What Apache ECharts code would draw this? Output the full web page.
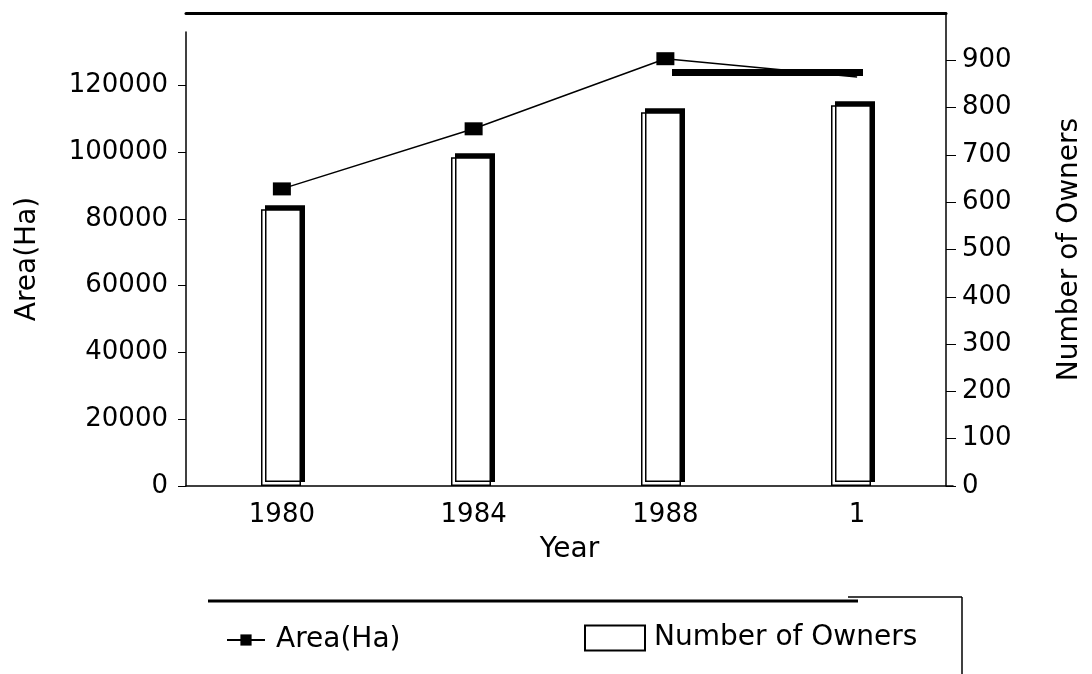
<!DOCTYPE html>
<html>
<head>
<meta charset="utf-8">
<style>
  html, body { margin: 0; padding: 0; background: #fff; }
  #main { width: 1092px; height: 674px; }
</style>
<script src="https://cdn.jsdelivr.net/npm/echarts@6/dist/echarts.min.js"></script>
</head>
<body>
<div id="main"></div>
<script>
// data
var years = ['1980', '1984', '1988', '1'];
var areaHa = [89000, 107000, 128000, 122500];
var owners = [585, 695, 790, 805];
var areaTicks = [0, 20000, 40000, 60000, 80000, 100000, 120000];
var ownerTicks = [0, 100, 200, 300, 400, 500, 600, 700, 800, 900];

var font = 'DejaVu Sans';
var ink = '#000';
var chart = echarts.init(document.getElementById('main'));

var option = {
  animation: false,
  backgroundColor: '#fff',
  textStyle: { fontFamily: font, color: ink },
  grid: [
    { left: 186, right: 139, top: 32, bottom: 188 },  // left axis (area)
    { left: 186, right: 139, top: 13, bottom: 188 }   // right axis (owners)
  ],
  legend: [
    {
      data: ['Area(Ha)'],
      left: 226, top: 626, padding: 0,
      itemWidth: 38, itemHeight: 14,
      textStyle: { fontFamily: font, fontSize: 28, color: ink, lineHeight: 28, padding: [0, 0, 0, 6] }
    },
    {
      data: [{ name: 'Number of Owners', icon: 'rect' }],
      left: 584, top: 624, padding: 0,
      itemWidth: 60, itemHeight: 25,
      textStyle: { fontFamily: font, fontSize: 28, color: ink, lineHeight: 28, padding: [0, 0, 0, 4] }
    }
  ],
  xAxis: [
    {
      type: 'category', gridIndex: 0, data: years,
      axisLine: { lineStyle: { color: ink, width: 1.5 } },
      axisTick: { alignWithLabel: true, length: 10, lineStyle: { color: ink } },
      axisLabel: { fontSize: 26, color: ink, margin: 16 },
      name: 'Year', nameLocation: 'middle', nameGap: 50,
      nameTextStyle: { fontSize: 28, color: ink }
    },
    { type: 'category', gridIndex: 1, data: years, show: false },
    {
      type: 'category', gridIndex: 1, data: years, position: 'top',
      axisLine: { lineStyle: { color: ink, width: 3 } },
      axisTick: { show: false },
      axisLabel: { show: false }
    }
  ],
  yAxis: [
    {
      type: 'value', gridIndex: 0, min: 0, max: 136000, interval: 20000,
      splitLine: { show: false },
      axisLine: { show: true, lineStyle: { color: ink, width: 1.5 } },
      axisTick: { show: true, length: 8, customValues: areaTicks, lineStyle: { color: ink } },
      axisLabel: {
        fontSize: 26, color: ink, margin: 18, customValues: areaTicks,
        formatter: function (v) { return String(v); }
      },
      name: 'Area(Ha)', nameLocation: 'middle', nameRotate: 90, nameGap: 144,
      nameTextStyle: { fontSize: 28, color: ink }
    },
    {
      type: 'value', gridIndex: 1, position: 'right', min: 0, max: 1000, interval: 100,
      splitLine: { show: false },
      axisLine: { show: true, lineStyle: { color: ink, width: 1.5 } },
      axisTick: { show: true, length: 10, customValues: ownerTicks, lineStyle: { color: ink } },
      axisLabel: {
        fontSize: 26, color: ink, margin: 16, customValues: ownerTicks,
        formatter: function (v) { return String(v); }
      },
      name: 'Number of Owners', nameLocation: 'middle', nameRotate: 90, nameGap: 110,
      nameTextStyle: { fontSize: 28, color: ink }
    }
  ],
  series: [
    {
      name: 'Number of Owners',
      type: 'bar',
      xAxisIndex: 1, yAxisIndex: 1,
      data: owners,
      barWidth: 40,
      itemStyle: {
        color: '#fff', borderColor: ink, borderWidth: 1.5,
        shadowColor: ink, shadowBlur: 0, shadowOffsetX: 4, shadowOffsetY: -4
      }
    },
    {
      name: 'Area(Ha)',
      type: 'line',
      xAxisIndex: 0, yAxisIndex: 0,
      data: areaHa.map(function (v, i) {
        // last marker is hidden under the black strike in the scan
        return i === areaHa.length - 1 ? { value: v, symbol: 'none' } : v;
      }),
      symbol: 'rect', symbolSize: [18, 13],
      lineStyle: { color: ink, width: 1.5 },
      itemStyle: { color: ink }
    }
  ],
  graphic: [
    // thick strike across the line, as in the scan
    { type: 'rect', shape: { x: 672, y: 69, width: 191, height: 7 }, style: { fill: ink }, z: 100 },
    // legend frame
    { type: 'line', shape: { x1: 208, y1: 601, x2: 858, y2: 601 }, style: { stroke: ink, lineWidth: 3 } },
    { type: 'line', shape: { x1: 848, y1: 597, x2: 962, y2: 597 }, style: { stroke: ink, lineWidth: 1.5 } },
    { type: 'line', shape: { x1: 962, y1: 597, x2: 962, y2: 674 }, style: { stroke: ink, lineWidth: 1.5 } }
  ]
};

chart.setOption(option);
</script>
</body>
</html>
